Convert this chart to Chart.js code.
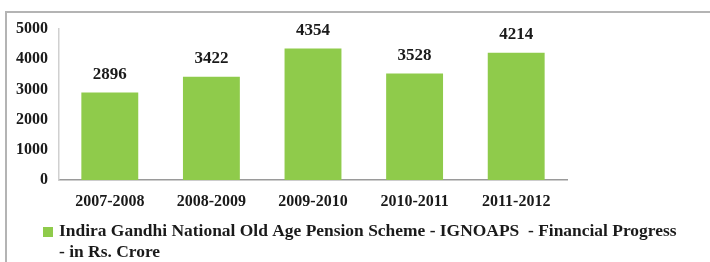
<!DOCTYPE html>
<html>
<head>
<meta charset="utf-8">
<script src="https://cdn.jsdelivr.net/npm/chart.js@4.4.0/dist/chart.umd.min.js"></script>
<style>
    body { margin: 0; background: #fff; overflow: hidden; }
    #frame { position: absolute; left: 5px; top: 11px; width: 760px; height: 300px; border: 2px solid #b4b4b4; }
    #wrap { position: absolute; left: 0; top: 0; width: 710px; height: 262px; }
</style>
</head>
<body>
<div id="frame"></div>
<div id="wrap"><canvas id="pension_graph" width="710" height="262"></canvas></div>
<script>
// values
let years = ['2007-2008', '2008-2009', '2009-2010', '2010-2011', '2011-2012'];
let amounts = [2896, 3422, 4354, 3528, 4214];
let seriesName = 'Indira Gandhi National Old Age Pension Scheme - IGNOAPS  - Financial Progress - in Rs. Crore';
let yTicks = [0, 1000, 2000, 3000, 4000, 5000];

const serif = '"Liberation Serif", "Times New Roman", serif';
const green = '#8fcb4b';

// value above each bar
const valueLabels = {
    id: 'valueLabels',
    afterDatasetsDraw(chart) {
        let ctx = chart.ctx;
        let meta = chart.getDatasetMeta(0);
        ctx.save();
        ctx.font = 'bold 17px ' + serif;
        ctx.fillStyle = '#1a1a1a';
        ctx.textAlign = 'center';
        ctx.textBaseline = 'middle';
        meta.data.forEach(function(bar, i) {
            ctx.fillText(chart.data.datasets[0].data[i], bar.x, bar.y - 18);
        });
        ctx.restore();
    }
};

// legend below the axis, wrapped onto two lines
const wrappedLegend = {
    id: 'wrappedLegend',
    afterDraw(chart) {
        let ctx = chart.ctx;
        let ds = chart.data.datasets[0];
        let stretch = 1.09;
        ctx.save();
        ctx.font = 'bold 16px ' + serif;
        let words = ds.label.split(' ');
        let lines = [], cur = '';
        for (let i = 0; i < words.length; i++) {
            let test = cur ? cur + ' ' + words[i] : words[i];
            if (cur && ctx.measureText(test).width * stretch > 624) {
                lines.push(cur);
                cur = words[i];
            } else {
                cur = test;
            }
        }
        lines.push(cur);
        ctx.fillStyle = ds.backgroundColor;
        ctx.fillRect(43, 227, 10, 10);
        ctx.fillStyle = '#1a1a1a';
        ctx.textBaseline = 'middle';
        ctx.textAlign = 'left';
        ctx.translate(59, 0);
        ctx.scale(stretch, 1);
        lines.forEach(function(line, i) {
            ctx.fillText(line, 0, 232 + i * 21);
        });
        ctx.restore();
    }
};

let ctx = document.getElementById('pension_graph').getContext('2d');
window.pension_chart = new Chart(ctx, {
    type: 'bar',
    data: {
        labels: years,
        datasets: [{
            label: seriesName,
            backgroundColor: green,
            borderWidth: 0,
            data: amounts,
            barPercentage: 0.56,
            categoryPercentage: 1
        }]
    },
    options: {
        responsive: false,
        animation: false,
        layout: { padding: { top: 29, right: 143, left: 0, bottom: 0 } },
        plugins: {
            legend: { display: false },
            tooltip: { enabled: false }
        },
        scales: {
            x: {
                grid: { display: false, drawTicks: false },
                border: { color: '#9a9a9a', width: 1.5 },
                ticks: { color: '#1a1a1a', padding: 12, font: { family: serif, size: 16, weight: 'bold' } },
                afterFit(scale) { scale.height = 82; }
            },
            y: {
                min: 0,
                max: 5000,
                afterBuildTicks(scale) { scale.ticks = yTicks.map(v => ({ value: v })); },
                grid: { display: false, drawTicks: false },
                border: { color: '#d0d0d0', width: 1.5 },
                ticks: {
                    color: '#1a1a1a', padding: 11,
                    font: { family: serif, size: 16, weight: 'bold' },
                    callback: function(value) { return String(value); }
                },
                afterFit(scale) { scale.width = 59; }
            }
        }
    },
    plugins: [valueLabels, wrappedLegend]
});
</script>
</body>
</html>
